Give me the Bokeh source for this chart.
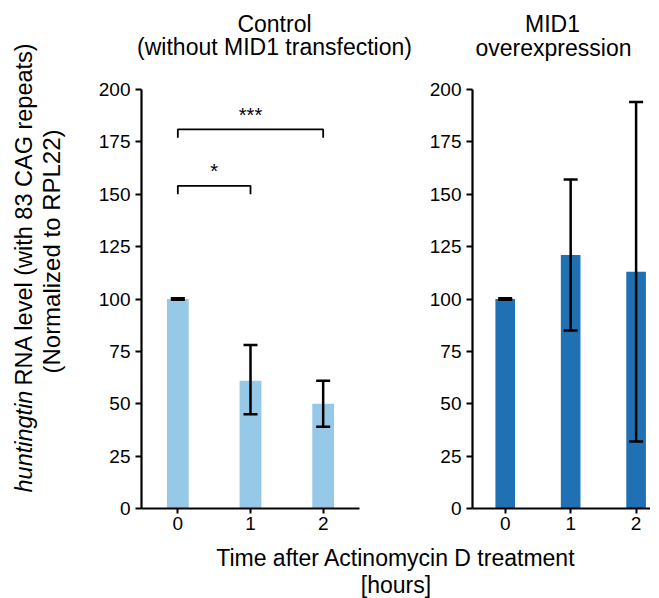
import math
from bokeh.plotting import figure
from bokeh.models import Range1d, Label, Whisker, ColumnDataSource, FixedTicker, TeeHead
from bokeh.layouts import column, row
from bokeh.embed import file_html
from bokeh.resources import INLINE
from bokeh.core.properties import value

# ---------------- data ----------------
times = [0, 1, 2]
y_ticks = [0, 25, 50, 75, 100, 125, 150, 175, 200]

control_mean = [100, 61, 50]
control_lower = [99.6, 45, 39]
control_upper = [100.4, 78, 61]

mid1_mean = [100, 121, 113]
mid1_lower = [99.6, 85, 32]
mid1_upper = [100.4, 157, 194]

# significance brackets (control panel)
sig_x0 = [0, 0]
sig_x1 = [1, 2]
sig_top = [154, 181]
sig_leg = [150, 177]
sig_text = ["*", "***"]

LIGHT = "#96C9E8"
DARK = "#1F71B4"
FONT = "Liberation Sans"
SHIFT = 9  # baseline correction for labels (px)


def style(p):
    p.xgrid.visible = False
    p.ygrid.visible = False
    p.outline_line_color = None
    p.xaxis.ticker = FixedTicker(ticks=times)
    p.yaxis.ticker = FixedTicker(ticks=y_ticks)
    for ax in (p.xaxis[0], p.yaxis[0]):
        ax.axis_line_width = 2.2
        ax.axis_line_color = "black"
        ax.major_tick_line_width = 2
        ax.major_tick_line_color = "black"
        ax.major_tick_in = 0
        ax.minor_tick_line_color = None
        ax.major_label_text_font = FONT
        ax.major_label_text_font_size = "19px"
        ax.major_label_text_color = "black"
    p.xaxis.major_tick_out = 5
    p.yaxis.major_tick_out = 6
    p.xaxis.major_label_standoff = 3
    p.yaxis.major_label_standoff = 5


def text_fig(width, height):
    f = figure(width=width, height=height, output_backend="svg", toolbar_location=None,
               x_range=Range1d(0, width), y_range=Range1d(0, height),
               min_border=0, x_axis_type=None, y_axis_type=None)
    f.outline_line_color = None
    f.xgrid.visible = False
    f.ygrid.visible = False
    return f


def add_label(p, text, x, y, align="center", angle=0, style_="normal", size="23px"):
    p.add_layout(Label(x=x, y=y, text=text,
                       text_font=FONT, text_font_size=size, text_align=align,
                       text_baseline="alphabetic", angle=angle,
                       text_font_style=style_, text_color="black"))


def panel(width, left, right, xmax, mean, lower, upper, color):
    p = figure(width=width, height=463, output_backend="svg", toolbar_location=None,
               x_range=Range1d(-0.5, xmax), y_range=Range1d(0, 200),
               min_border_left=left, min_border_right=right,
               min_border_top=12, min_border_bottom=32)
    style(p)
    src = ColumnDataSource(dict(x=times, top=mean, lower=lower, upper=upper))
    p.vbar(x="x", top="top", width=0.3, source=src, fill_color=color, line_color=None)
    w = Whisker(base="x", lower="lower", upper="upper", source=src, level="overlay",
                line_width=2.5, line_color="black",
                upper_head=TeeHead(size=14, line_width=2.5, line_color="black"),
                lower_head=TeeHead(size=14, line_width=2.5, line_color="black"))
    p.add_layout(w)
    return p


# panels: page x 80..420 and 420..650
p1 = panel(340, 61, 61, 2.5, control_mean, control_lower, control_upper, LIGHT)
p2 = panel(230, 52, 0, 2.22, mid1_mean, mid1_lower, mid1_upper, DARK)

# brackets
xs = [[a, a, b, b] for a, b in zip(sig_x0, sig_x1)]
ys = [[l, t, t, l] for t, l in zip(sig_top, sig_leg)]
p1.multi_line(xs=xs, ys=ys, line_color="black", line_width=1.8)
star_x = [(a + b) / 2 for a, b in zip(sig_x0, sig_x1)]
star_y = [t + 7 for t in sig_top]
p1.text(x=star_x, y=star_y, text=sig_text, text_font=value(FONT), text_font_size="20px",
        text_align="center", text_baseline="alphabetic", text_color="black")

# titles (page x 80..650, y 0..77)
tt = text_fig(570, 77)
add_label(tt, "Control", 194, 45 + SHIFT)
add_label(tt, "(without MID1 transfection)", 194, 22 + SHIFT)
add_label(tt, "MID1", 472, 45 + SHIFT)
add_label(tt, "overexpression", 473, 21 + SHIFT)

# y label (page x 0..80, y 0..540)
yl = text_fig(80, 540)
add_label(yl, "huntingtin", 33 - 10, 48, align="left", angle=math.pi / 2,
          style_="italic", size="23.5px")
add_label(yl, "RNA level (with 83 CAG repeats)", 33 - 10, 155, align="left",
          angle=math.pi / 2, size="23.5px")
add_label(yl, "(Normalized to RPL22)", 61 - 10, 289, align="center",
          angle=math.pi / 2, size="24px")

# x label (page y 540..598)
xl = text_fig(650, 58)
add_label(xl, "Time after Actinomycin D treatment", 395.5, 32 + SHIFT)
add_label(xl, "[hours]", 395.5, 14)

layout = column(row(yl, column(tt, row(p1, p2))), xl)
open("out.html", "w").write(file_html(layout, INLINE))
